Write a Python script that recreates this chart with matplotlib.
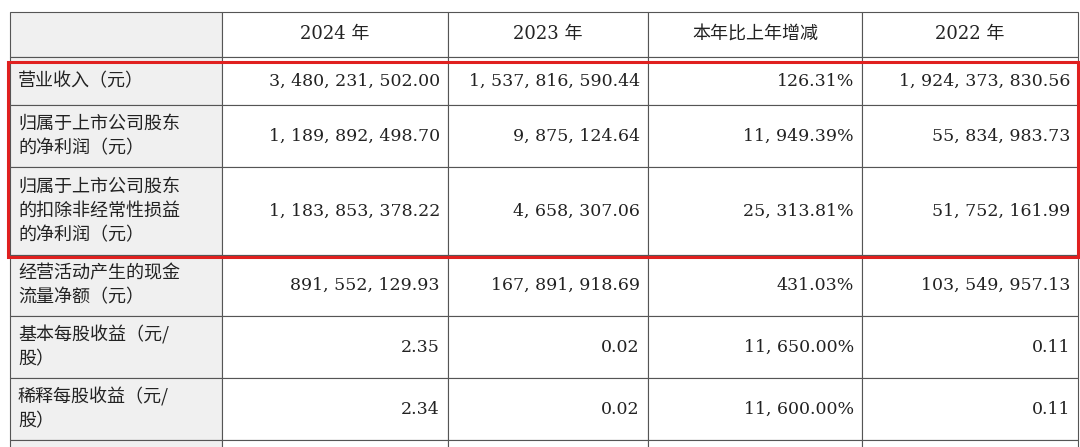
import matplotlib.pyplot as plt
from matplotlib.patches import Rectangle

plt.rcParams["font.family"] = ["Noto Sans CJK SC", "DejaVu Sans"]

headers = ["", "2024 年", "2023 年", "本年比上年增减", "2022 年"]
row_labels = [
    "营业收入（元）",
    "归属于上市公司股东\n的净利润（元）",
    "归属于上市公司股东\n的扣除非经常性损益\n的净利润（元）",
    "经营活动产生的现金\n流量净额（元）",
    "基本每股收益（元/\n股）",
    "稀释每股收益（元/\n股）",
]
col_2024 = ["3,480,231,502.00", "1,189,892,498.70", "1,183,853,378.22",
            "891,552,129.93", "2.35", "2.34"]
col_2023 = ["1,537,816,590.44", "9,875,124.64", "4,658,307.06",
            "167,891,918.69", "0.02", "0.02"]
col_change = ["126.31%", "11,949.39%", "25,313.81%", "431.03%",
              "11,650.00%", "11,600.00%"]
col_2022 = ["1,924,373,830.56", "55,834,983.73", "51,752,161.99",
            "103,549,957.13", "0.11", "0.11"]

col_edges = [10, 222, 448, 648, 862, 1078]
row_edges = [12, 57, 105, 167, 255, 316, 378, 440, 470]

W, H = 1080, 447
fig = plt.figure(figsize=(W / 100, H / 100), dpi=100)
ax = fig.add_axes([0, 0, 1, 1])
ax.set_xlim(0, W)
ax.set_ylim(H, 0)
ax.axis("off")

grid = "#555555"
shade = "#f0f0f0"
cols = [col_2024, col_2023, col_change, col_2022]

for r in range(len(row_edges) - 1):
    y0, y1 = row_edges[r], row_edges[r + 1]
    for c in range(len(col_edges) - 1):
        x0, x1 = col_edges[c], col_edges[c + 1]
        fc = shade if c == 0 else "white"
        ax.add_patch(Rectangle((x0, y0), x1 - x0, y1 - y0, facecolor=fc,
                               edgecolor=grid, linewidth=0.8))
        ym = (y0 + y1) / 2
        if r == 0:
            ax.text((x0 + x1) / 2, ym, headers[c], ha="center", va="center",
                    fontsize=13, color="#222222",
                    family=["DejaVu Serif", "Noto Sans CJK SC"])
        elif r - 1 < len(row_labels):
            i = r - 1
            if c == 0:
                ax.text(x0 + 8, ym, row_labels[i], ha="left", va="center",
                        fontsize=13, color="#222222", linespacing=1.45)
            else:
                s = cols[c - 1][i].replace(",", ", ")
                ax.text(x1 - 8, ym, s, ha="right", va="center",
                        fontsize=12.5, color="#222222", family="DejaVu Serif")

# red highlight box
ax.add_patch(Rectangle((8, 62), 1070, 195, facecolor="none",
                       edgecolor="#e0201f", linewidth=2.2, zorder=5))

fig.savefig("out.png", dpi=100)
